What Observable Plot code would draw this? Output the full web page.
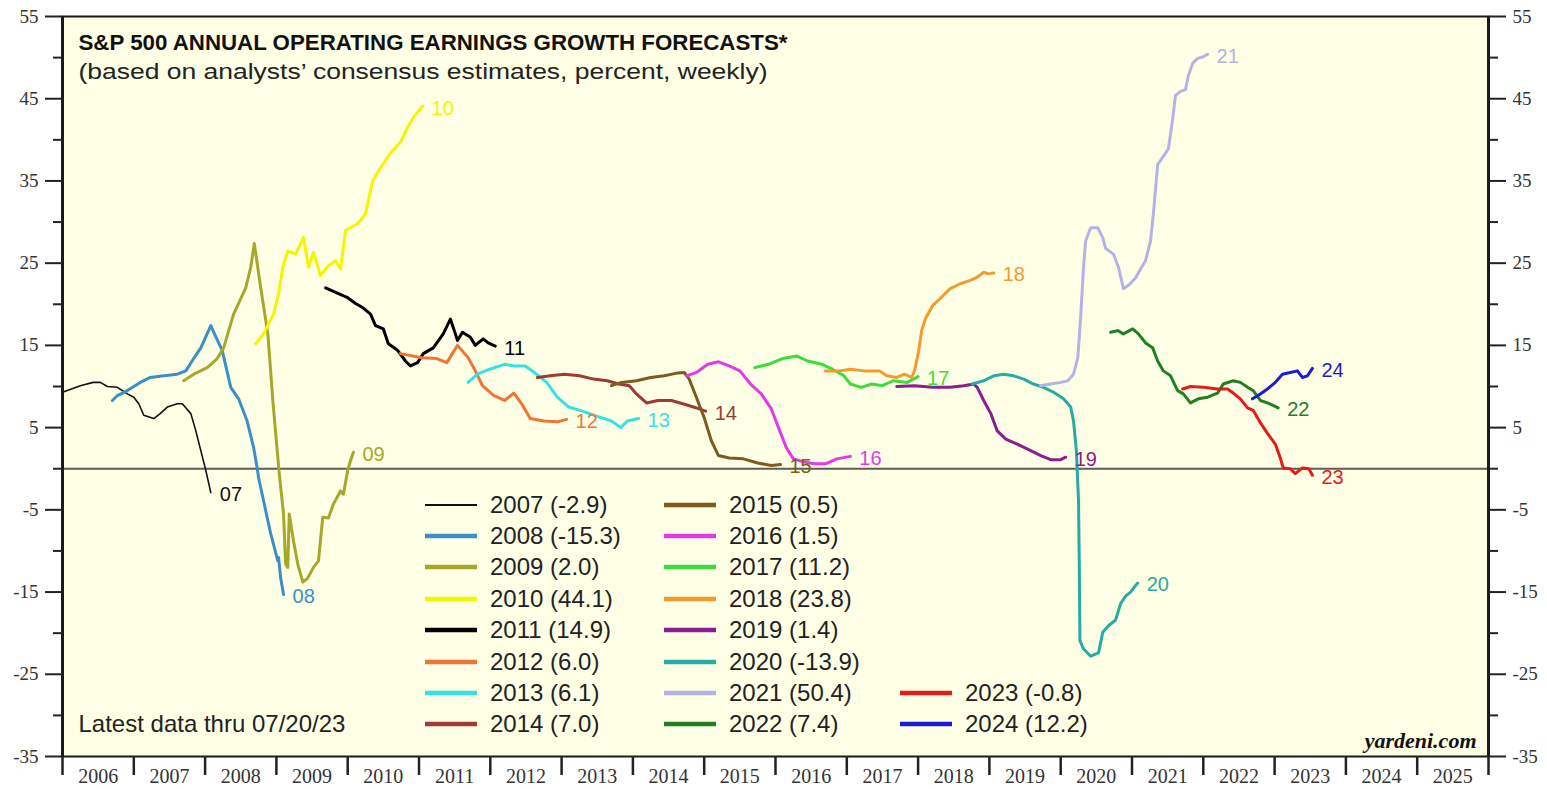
<!DOCTYPE html>
<html>
<head>
<meta charset="utf-8">
<script src="https://cdn.jsdelivr.net/npm/d3@7"></script>
<script src="https://cdn.jsdelivr.net/npm/@observablehq/plot@0.6"></script>
<style>
  html, body { margin: 0; padding: 0; background: #ffffff; overflow: hidden; }
  #wrap { position: relative; width: 1547px; height: 789px; }
  #legend { position: absolute; left: 0; top: 0; width: 1547px; height: 789px; pointer-events: none;
            font-family: "Liberation Sans", Arial, sans-serif; font-size: 24px; color: #222; }
  .item { position: absolute; display: flex; align-items: center; height: 30px; white-space: nowrap; }
  .item svg { display: block; margin-right: 13px; }
</style>
</head>
<body>
<div id="wrap"><div id="legend"></div></div>
<script>
// ---------------- data ----------------
const seriesNames = ["2007","2008","2009","2010","2011","2012","2013","2014","2015","2016","2017","2018","2019","2020","2021","2022","2023","2024"];
const seriesColors = ["#111111","#3b8fc6","#a7a72b","#f5f500","#000000","#ee7438","#33e3e3","#9e3a36","#7d5a1f","#e33be3","#3cdc3c","#f39c2e","#8a1e8e","#27aba5","#b3b3e6","#237e23","#e31b1b","#1b1bd3"];
const finalValues = [-2.9, -15.3, 2.0, 44.1, 14.9, 6.0, 6.1, 7.0, 0.5, 1.5, 11.2, 23.8, 1.4, -13.9, 50.4, 7.4, -0.8, 12.2];

const s2007 = [[2006.00,9.3],[2006.25,10.1],[2006.43,10.5],[2006.53,10.5],[2006.63,10.0],[2006.77,9.9],[2006.91,9.1],[2007.00,8.7],[2007.07,7.9],[2007.14,6.5],[2007.28,6.1],[2007.37,6.7],[2007.47,7.5],[2007.61,7.9],[2007.68,7.9],[2007.80,6.7],[2007.87,4.6],[2007.94,2.2],[2008.01,-0.2],[2008.08,-2.9]];
const s2008 = [[2006.70,8.3],[2006.77,8.9],[2006.91,9.5],[2007.09,10.5],[2007.23,11.1],[2007.42,11.3],[2007.61,11.5],[2007.73,11.9],[2007.84,13.4],[2007.94,14.7],[2008.08,17.4],[2008.12,16.6],[2008.24,14.4],[2008.36,9.9],[2008.47,8.5],[2008.59,5.8],[2008.68,2.6],[2008.73,0.1],[2008.75,-1.1],[2008.82,-3.9],[2008.92,-7.9],[2009.02,-11.2],[2009.03,-10.8],[2009.06,-13.3],[2009.10,-15.3]];
const s2009 = [[2007.70,10.7],[2007.84,11.5],[2008.03,12.3],[2008.17,13.4],[2008.26,14.7],[2008.40,18.8],[2008.57,22.0],[2008.64,24.5],[2008.69,27.4],[2008.78,22.0],[2008.88,16.4],[2008.95,8.3],[2008.99,4.3],[2009.04,-0.6],[2009.10,-5.5],[2009.13,-11.6],[2009.16,-12.0],[2009.18,-5.5],[2009.24,-8.8],[2009.30,-11.6],[2009.37,-13.8],[2009.44,-13.3],[2009.52,-12.0],[2009.59,-11.2],[2009.65,-5.9],[2009.73,-6.0],[2009.80,-4.3],[2009.90,-2.7],[2009.94,-3.1],[2010.00,-0.2],[2010.04,1.0],[2010.08,2.0]];
const s2010 = [[2008.71,15.2],[2008.82,16.4],[2008.96,18.8],[2009.03,21.3],[2009.09,24.5],[2009.16,26.5],[2009.27,26.1],[2009.38,28.1],[2009.45,24.5],[2009.52,26.3],[2009.62,23.5],[2009.73,24.7],[2009.83,25.3],[2009.90,24.3],[2009.97,29.0],[2010.14,29.8],[2010.25,31.0],[2010.35,35.0],[2010.46,36.6],[2010.60,38.4],[2010.74,39.7],[2010.84,41.5],[2010.92,42.7],[2011.05,44.1]];
const s2011 = [[2009.69,22.0],[2009.87,21.3],[2010.00,20.8],[2010.11,20.1],[2010.21,19.6],[2010.32,18.8],[2010.39,17.4],[2010.50,17.0],[2010.57,15.2],[2010.70,14.4],[2010.81,13.1],[2010.88,12.5],[2010.98,12.9],[2011.06,14.0],[2011.20,14.7],[2011.34,16.4],[2011.44,18.2],[2011.51,16.4],[2011.54,15.6],[2011.61,16.6],[2011.72,16.0],[2011.79,15.0],[2011.90,15.8],[2011.97,15.3],[2012.07,14.9]];
const s2012 = [[2010.74,14.0],[2011.04,13.5],[2011.25,13.4],[2011.39,12.9],[2011.54,15.0],[2011.69,13.5],[2011.79,11.9],[2011.89,10.1],[2012.05,8.9],[2012.20,8.3],[2012.33,9.2],[2012.44,7.9],[2012.56,6.1],[2012.75,5.8],[2012.94,5.7],[2013.07,6.0]];
const s2013 = [[2011.69,10.5],[2011.82,11.5],[2011.99,12.1],[2012.20,12.7],[2012.34,12.5],[2012.49,12.5],[2012.65,11.5],[2012.79,10.5],[2012.94,8.7],[2013.10,7.5],[2013.29,7.0],[2013.49,6.4],[2013.70,5.8],[2013.83,5.0],[2013.92,5.8],[2014.08,6.1]];
const s2014 = [[2012.66,11.1],[2012.84,11.3],[2013.04,11.5],[2013.25,11.3],[2013.45,10.9],[2013.64,10.7],[2013.80,10.3],[2013.95,10.1],[2014.05,9.1],[2014.19,8.0],[2014.35,8.3],[2014.54,8.3],[2014.70,7.9],[2014.85,7.5],[2014.92,7.3],[2015.02,7.0]];
const s2015 = [[2013.70,10.1],[2013.84,10.5],[2014.05,10.7],[2014.25,11.1],[2014.44,11.3],[2014.60,11.6],[2014.72,11.7],[2014.79,10.9],[2014.89,8.7],[2015.00,6.2],[2015.10,3.4],[2015.20,1.6],[2015.35,1.3],[2015.55,1.2],[2015.75,0.7],[2015.94,0.4],[2016.07,0.5]];
const s2016 = [[2014.75,11.3],[2014.89,11.7],[2015.05,12.7],[2015.20,13.0],[2015.35,12.5],[2015.50,11.9],[2015.65,10.3],[2015.80,9.1],[2015.94,7.3],[2016.06,4.6],[2016.15,2.6],[2016.25,1.2],[2016.41,0.8],[2016.55,0.6],[2016.70,0.6],[2016.86,1.2],[2017.05,1.5]];
const s2017 = [[2015.71,12.3],[2015.90,12.7],[2016.10,13.4],[2016.30,13.7],[2016.45,13.1],[2016.65,12.7],[2016.80,12.1],[2016.96,11.3],[2017.05,10.3],[2017.20,9.9],[2017.35,10.3],[2017.50,10.1],[2017.65,10.7],[2017.85,10.5],[2018.00,11.2]];
const s2018 = [[2016.70,11.9],[2016.90,11.9],[2017.05,12.1],[2017.25,11.9],[2017.46,11.9],[2017.56,11.3],[2017.70,11.1],[2017.81,11.5],[2017.91,11.1],[2017.95,11.9],[2018.01,14.4],[2018.05,16.8],[2018.10,18.2],[2018.20,19.8],[2018.31,20.7],[2018.45,21.9],[2018.59,22.5],[2018.73,22.9],[2018.83,23.3],[2018.92,23.9],[2018.99,23.7],[2019.06,23.8]];
const s2019 = [[2017.70,10.0],[2017.95,10.1],[2018.20,9.9],[2018.45,9.9],[2018.64,10.1],[2018.78,10.3],[2018.83,9.9],[2018.92,8.3],[2019.02,6.7],[2019.11,4.6],[2019.23,3.6],[2019.39,3.0],[2019.58,2.2],[2019.72,1.6],[2019.86,1.1],[2020.00,1.1],[2020.07,1.4]];
const s2020 = [[2018.76,10.3],[2018.92,10.7],[2019.06,11.3],[2019.20,11.5],[2019.34,11.3],[2019.48,10.9],[2019.62,10.3],[2019.76,9.9],[2019.90,9.3],[2020.04,8.5],[2020.14,7.5],[2020.18,5.8],[2020.22,2.2],[2020.25,-3.9],[2020.26,-11.0],[2020.27,-20.9],[2020.32,-21.9],[2020.42,-22.8],[2020.53,-22.4],[2020.59,-19.9],[2020.67,-19.1],[2020.77,-18.4],[2020.84,-16.4],[2020.91,-15.5],[2020.98,-15.0],[2021.05,-14.2],[2021.08,-13.9]];
const s2021 = [[2019.72,10.1],[2019.86,10.3],[2020.00,10.5],[2020.10,10.7],[2020.18,11.5],[2020.24,13.5],[2020.28,18.4],[2020.32,24.5],[2020.35,27.7],[2020.42,29.3],[2020.52,29.3],[2020.59,28.1],[2020.63,26.8],[2020.74,26.1],[2020.81,24.5],[2020.88,21.9],[2020.95,22.3],[2021.05,23.2],[2021.12,24.3],[2021.19,25.3],[2021.26,27.7],[2021.30,31.0],[2021.36,37.0],[2021.44,38.0],[2021.51,38.9],[2021.57,42.5],[2021.61,45.4],[2021.68,45.9],[2021.75,46.1],[2021.79,47.8],[2021.85,49.3],[2021.92,49.9],[2022.00,50.1],[2022.06,50.4]];
const s2022 = [[2020.70,16.6],[2020.80,16.8],[2020.88,16.4],[2021.01,17.0],[2021.09,16.4],[2021.19,15.3],[2021.29,14.7],[2021.36,13.1],[2021.44,11.9],[2021.54,11.3],[2021.64,9.5],[2021.72,9.1],[2021.82,8.0],[2021.93,8.5],[2022.06,8.7],[2022.20,9.2],[2022.28,10.3],[2022.42,10.7],[2022.52,10.5],[2022.62,9.9],[2022.70,9.5],[2022.80,8.3],[2022.90,8.0],[2022.98,7.7],[2023.05,7.4]];
const s2023 = [[2021.71,9.7],[2021.82,10.0],[2022.00,9.9],[2022.20,9.7],[2022.34,9.7],[2022.42,9.2],[2022.52,8.5],[2022.62,7.4],[2022.70,7.1],[2022.80,5.6],[2022.90,4.3],[2023.01,3.0],[2023.08,1.3],[2023.12,0.1],[2023.22,0.0],[2023.29,-0.6],[2023.39,0.1],[2023.48,0.0],[2023.53,-0.8]];
const s2024 = [[2022.69,8.5],[2022.80,9.1],[2022.90,9.7],[2023.01,10.5],[2023.11,11.5],[2023.22,11.7],[2023.32,11.9],[2023.39,11.1],[2023.46,11.3],[2023.53,12.2]];

const seriesData = [s2007,s2008,s2009,s2010,s2011,s2012,s2013,s2014,s2015,s2016,s2017,s2018,s2019,s2020,s2021,s2022,s2023,s2024];

const yMajorTicks = [55,45,35,25,15,5,-5,-15,-25,-35];
const yMinorTicks = [50,40,30,20,10,0,-10,-20,-30];
const yearBoundaries = d3.range(2006, 2027);
const yearLabels = d3.range(2006, 2026);

const titleText = "S&P 500 ANNUAL OPERATING EARNINGS GROWTH FORECASTS*";
const subtitleText = "(based on analysts\u2019 consensus estimates, percent, weekly)";
const noteText = "Latest data thru 07/20/23";
const sourceText = "yardeni.com";

// ---------------- build table ----------------
const rows = seriesNames.flatMap((s, i) => seriesData[i].map(([x, y]) => ({series: s, x, y})));
const ends = seriesNames.map((s, i) => {
  const p = seriesData[i][seriesData[i].length - 1];
  return {series: s, x: p[0], y: p[1], label: s.slice(2)};
});

const serif = "Liberation Serif, Times New Roman, serif";
const sans = "Liberation Sans, Arial, sans-serif";

const chart = Plot.plot({
  width: 1547,
  height: 789,
  marginLeft: 62,
  marginRight: 59,
  marginTop: 16,
  marginBottom: 33,
  x: {domain: [2006, 2026], label: null},
  y: {domain: [-35, 55], label: null},
  color: {domain: seriesNames, range: seriesColors},
  style: {background: "#ffffff", fontFamily: sans, overflow: "visible"},
  marks: [
    Plot.frame({fill: "#ffffe6", stroke: null}),
    Plot.ruleY([0], {stroke: "#5d5d55", strokeWidth: 2}),
    Plot.line(rows.filter(d => d.series === "2007"), {x: "x", y: "y", z: "series", stroke: "series", strokeWidth: 1.6}),
    Plot.line(rows.filter(d => d.series !== "2007"), {x: "x", y: "y", z: "series", stroke: "series", strokeWidth: 3, strokeLinejoin: "round"}),
    Plot.text(ends, {x: "x", y: "y", text: "label", fill: "series", dx: 9, dy: 2, textAnchor: "start", fontSize: 20, fontFamily: sans}),
    Plot.frame({stroke: "#1a1a1a", strokeWidth: 2}),
    Plot.ruleX([2006, 2026], {stroke: "#1a1a1a", strokeWidth: 3}),
    Plot.axisY({ticks: yMajorTicks, anchor: "left", tickSize: 17, tickPadding: 7, tickFormat: d => String(d), fontFamily: serif, fontSize: 19, stroke: "#222", strokeWidth: 2, fill: "#333", label: null}),
    Plot.axisY({ticks: yMinorTicks, anchor: "left", tickSize: 9, tickFormat: () => "", stroke: "#222", strokeWidth: 2, label: null}),
    Plot.axisY({ticks: yMajorTicks, anchor: "right", tickSize: 17, tickPadding: 7, tickFormat: d => String(d), fontFamily: serif, fontSize: 19, stroke: "#222", strokeWidth: 2, fill: "#333", label: null}),
    Plot.axisY({ticks: yMinorTicks, anchor: "right", tickSize: 9, tickFormat: () => "", stroke: "#222", strokeWidth: 2, label: null}),
    Plot.axisX({ticks: yearBoundaries, anchor: "bottom", tickSize: 19, tickFormat: () => "", stroke: "#222", strokeWidth: 2.5, label: null}),
    Plot.axisX({ticks: yearLabels.map(y => y + 0.5), anchor: "bottom", tickSize: 0, tickPadding: 12, tickFormat: d => String(Math.floor(d)), fontFamily: serif, fontSize: 20, fill: "#333", label: null}),
    Plot.text([titleText], {frameAnchor: "top-left", dx: 16, dy: 33, lineAnchor: "bottom", textAnchor: "start", fontWeight: "bold", fontSize: 22, fontFamily: sans, fill: "#111"}),
    Plot.text([subtitleText], {frameAnchor: "top-left", dx: 16, dy: 62, lineAnchor: "bottom", textAnchor: "start", fontSize: 22.5, fontFamily: sans, fill: "#222"}),
    Plot.text([noteText], {frameAnchor: "bottom-left", dx: 16, dy: -32, lineAnchor: "middle", textAnchor: "start", fontSize: 24, fontFamily: sans, fill: "#222"}),
    Plot.text([sourceText], {frameAnchor: "bottom-right", dx: -12, dy: -16, lineAnchor: "middle", textAnchor: "end", fontSize: 22, fontFamily: serif, fontWeight: "bold", fontStyle: "italic", fill: "#111"})
  ]
});
chart.style.display = "block";
document.getElementById("wrap").insertBefore(chart, document.getElementById("legend"));

function fitText(content, len) {
  chart.querySelectorAll("text").forEach(t => {
    if (t.textContent === content) {
      t.setAttribute("textLength", len);
      t.setAttribute("lengthAdjust", "spacingAndGlyphs");
    }
  });
}
fitText(titleText, 709);
fitText(subtitleText, 689);

// ---------------- legend ----------------
const legendColX = [425, 664, 900];
const legendRowY = [505, 536, 567, 599, 630, 662, 693, 724];
const legend = d3.select("#legend");
seriesNames.forEach((s, i) => {
  const col = i < 8 ? 0 : i < 16 ? 1 : 2;
  const row = i < 8 ? i : i < 16 ? i - 8 : i - 10;
  const item = legend.append("div").attr("class", "item")
    .style("left", legendColX[col] + "px")
    .style("top", (legendRowY[row] - 15) + "px");
  const sw = item.append("svg").attr("width", 52).attr("height", 10);
  sw.append("line").attr("x1", 0).attr("x2", 52).attr("y1", 5).attr("y2", 5)
    .attr("stroke", seriesColors[i]).attr("stroke-width", s === "2007" ? 2 : 4.5);
  item.append("span").text(`${s} (${finalValues[i].toFixed(1)})`);
});
</script>
</body>
</html>
